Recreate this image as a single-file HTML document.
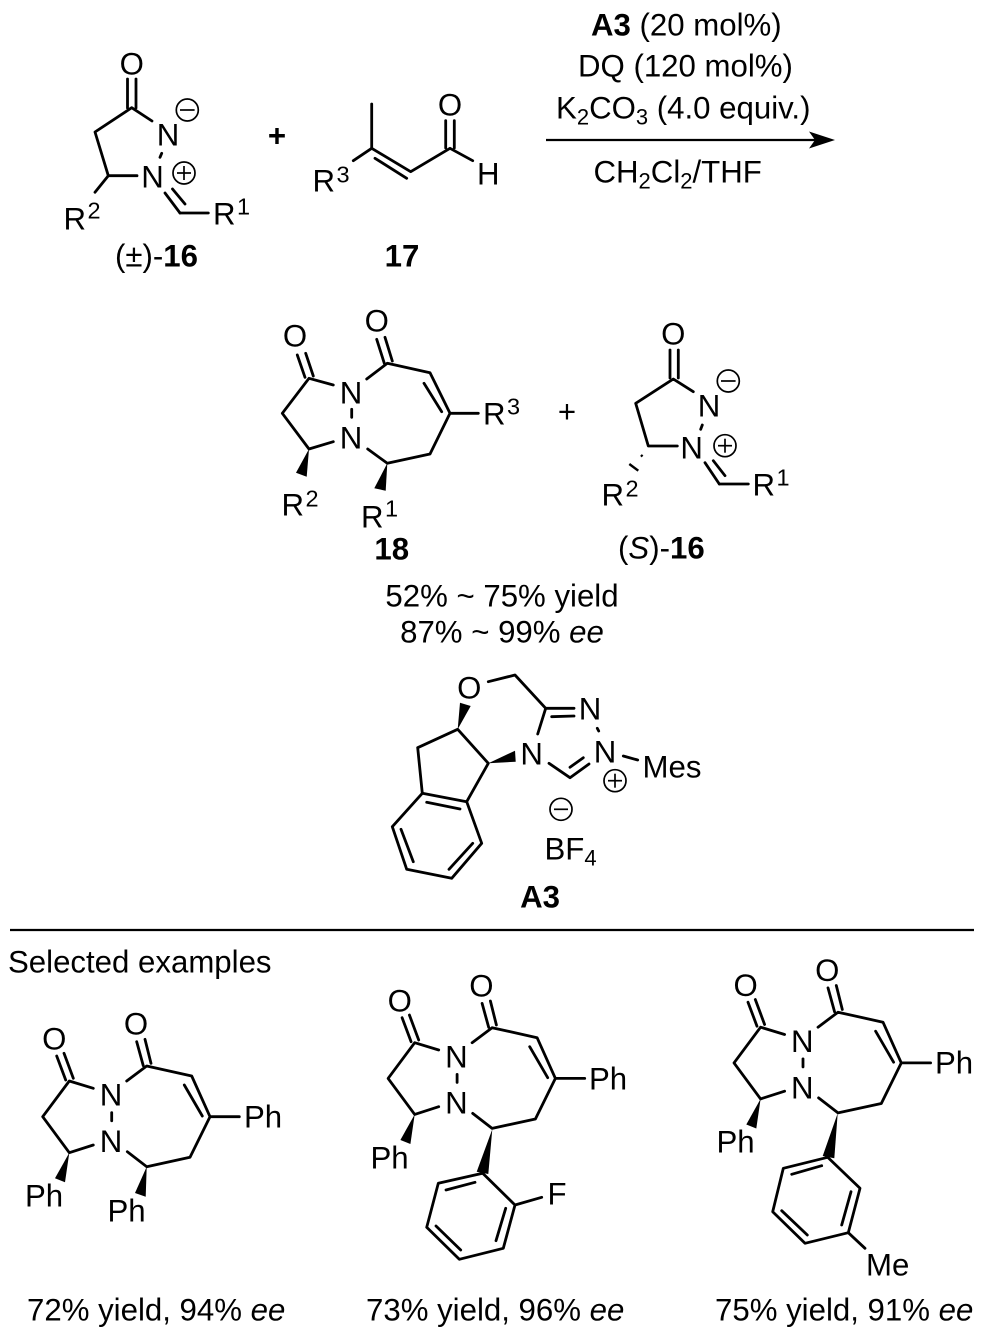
<!DOCTYPE html>
<html><head><meta charset="utf-8"><style>
html,body{margin:0;padding:0;background:#fff}
svg{display:block}
text{font-family:"Liberation Sans",sans-serif;font-size:31.2px;fill:#000;transform:translate(0,0.7px)}
.c{text-anchor:middle}
.b{font-weight:bold}
.s{font-size:23.5px}
.u{font-size:22px}
.bonds line{stroke:#000;stroke-width:2.8;stroke-linecap:round}
.bonds polyline{fill:none;stroke:#000;stroke-width:2.8;stroke-linejoin:round;stroke-linecap:round}
.ch circle{fill:none;stroke:#000;stroke-width:1.7}
.ch line{stroke:#000;stroke-width:1.7}
</style></head><body>
<svg width="983" height="1339" viewBox="0 0 983 1339" xmlns="http://www.w3.org/2000/svg">
<rect width="983" height="1339" fill="#fff"/>
<defs>
<g id="core" class="bonds">
<line x1="56.7" y1="1056" x2="65.7" y2="1080"/><line x1="64" y1="1053.3" x2="73.3" y2="1078.3"/>
<polyline points="93.3,1088.3 69.3,1081 42.7,1116.7 69.3,1152.7 93.3,1145"/>
<line x1="111.7" y1="1112.7" x2="111.7" y2="1120.7"/>
<polygon points="69.3,1152.7 55,1178.3 65,1182.3" fill="#000"/>
<line x1="136.7" y1="1041.7" x2="143.3" y2="1065.7"/><line x1="145" y1="1039.3" x2="151" y2="1063.3"/>
<polyline points="126.7,1081 146.7,1066 191.7,1076 210,1116.7 190,1157.3 146.7,1166.7 127.3,1151.7"/>
<line x1="184.3" y1="1085" x2="202.3" y2="1116"/>
<line x1="210" y1="1116.7" x2="239.3" y2="1116.7"/>
</g>
</defs>

<!-- 16 -->
<g class="bonds">
<line x1="127.5" y1="79" x2="127.5" y2="108"/><line x1="136" y1="79" x2="136" y2="108"/>
<polyline points="152,121 131.7,107.7 95,132 108.3,175.7 137,175.7"/>
<line x1="108.3" y1="175.7" x2="95" y2="192.3"/>
<line x1="161.7" y1="153.3" x2="160" y2="157.3"/>
<line x1="165" y1="193" x2="180" y2="213"/><line x1="172.5" y1="189" x2="185" y2="204"/>
<line x1="180" y1="213" x2="208.3" y2="213"/>
</g>
<text class="c" x="131.7" y="74">O</text>
<text class="c" x="168" y="145">N</text>
<text class="c" x="152.5" y="187">N</text>
<g class="ch"><circle cx="187.3" cy="110" r="11"/><line x1="180" y1="110" x2="194.6" y2="110"/>
<circle cx="184" cy="173" r="11"/><line x1="177" y1="173" x2="191" y2="173"/><line x1="184" y1="166" x2="184" y2="180"/></g>
<text x="63.5" y="229">R<tspan class="s" dx="1.5" dy="-11">2</tspan></text>
<text x="213" y="224">R<tspan class="s" dx="1.5" dy="-10">1</tspan></text>
<text x="115" y="266">(±)-<tspan class="b">16</tspan></text>

<text class="b c" x="277" y="146">+</text>

<!-- 17 -->
<g class="bonds">
<line x1="371.7" y1="104" x2="371.7" y2="148.3"/>
<line x1="353.3" y1="160.7" x2="371.7" y2="148.3"/>
<polyline points="371.7,148.3 410.7,171.7 450,148.3 472.7,160.7"/>
<line x1="375" y1="158.3" x2="406.7" y2="178.3"/>
<line x1="445.7" y1="120.7" x2="445.7" y2="148"/><line x1="454.3" y1="120.7" x2="454.3" y2="148"/>
</g>
<text class="c" x="450" y="115">O</text>
<text x="477" y="184">H</text>
<text x="312.5" y="191">R<tspan class="s" dx="1.5" dy="-9">3</tspan></text>
<text class="b c" x="402" y="266">17</text>

<!-- conditions -->
<text x="591" y="35"><tspan class="b">A3</tspan> (20 mol%)</text>
<text x="578" y="76">DQ (120 mol%)</text>
<text x="556" y="118">K<tspan class="u" dy="6">2</tspan><tspan dy="-6">CO</tspan><tspan class="u" dy="6">3</tspan><tspan dy="-6"> (4.0 equiv.)</tspan></text>
<line x1="546" y1="140" x2="815" y2="140" stroke="#000" stroke-width="2.2"/>
<polygon points="835,140 809,131.5 815,140 809,148.5" fill="#000"/>
<text x="593.5" y="182">CH<tspan class="u" dy="6">2</tspan><tspan dy="-6">Cl</tspan><tspan class="u" dy="6">2</tspan><tspan dy="-6">/THF</tspan></text>

<!-- 18 -->
<g class="bonds">
<line x1="297.3" y1="355" x2="305" y2="377.3"/><line x1="305.7" y1="353.3" x2="313.3" y2="376"/>
<polyline points="333.3,385 309,378.3 282.3,413.3 309,449 333.3,441.7"/>
<line x1="351.7" y1="409.3" x2="351.7" y2="417.3"/>
<polygon points="309,449 296,472.7 306.7,476.7" fill="#000"/>
<line x1="376.7" y1="339.3" x2="384.3" y2="363.3"/><line x1="385" y1="337.3" x2="392.3" y2="361"/>
<polyline points="366.7,379 387.3,363.3 430,372.7 450,413.3 430,454 387.3,463.3 367.7,449"/>
<line x1="424" y1="383.3" x2="441.7" y2="411.7"/>
<line x1="450" y1="413.3" x2="478.3" y2="413.3"/>
<polygon points="387.3,463.3 374.3,488.3 385.7,490.7" fill="#000"/>
</g>
<text class="c" x="295" y="346">O</text>
<text class="c" x="376.7" y="331">O</text>
<text class="c" x="351" y="403">N</text>
<text class="c" x="351" y="448">N</text>
<text x="483" y="424">R<tspan class="s" dx="1.5" dy="-10">3</tspan></text>
<text x="281.5" y="515">R<tspan class="s" dx="1.5" dy="-9">2</tspan></text>
<text x="361" y="527">R<tspan class="s" dx="1.5" dy="-11">1</tspan></text>
<text class="b c" x="391.7" y="559">18</text>
<text class="c" x="567" y="422">+</text>

<!-- (S)-16 -->
<g class="bonds">
<line x1="670" y1="350" x2="670" y2="378"/><line x1="678.3" y1="350" x2="678.3" y2="378"/>
<polyline points="693.3,391.7 673.3,379 635.7,403.3 648.3,446 677.3,446"/>
<line x1="702.3" y1="425" x2="700.7" y2="429.3"/>
<line x1="705" y1="462.7" x2="719.3" y2="484"/><line x1="713.3" y1="460.7" x2="725" y2="475.7"/>
<line x1="719.3" y1="484" x2="748.3" y2="484"/>
</g>
<g stroke="#000" stroke-width="2.4">
<line x1="641" y1="455" x2="642.5" y2="456.5"/>
<line x1="629.3" y1="464" x2="638.3" y2="470.7"/>
</g>
<text class="c" x="673.3" y="344">O</text>
<text class="c" x="709" y="416">N</text>
<text class="c" x="691.7" y="458">N</text>
<g class="ch"><circle cx="728.3" cy="381" r="11"/><line x1="721" y1="381" x2="735.6" y2="381"/>
<circle cx="725" cy="445.7" r="11"/><line x1="718" y1="445.7" x2="732" y2="445.7"/><line x1="725" y1="438.7" x2="725" y2="452.7"/></g>
<text x="752.5" y="495">R<tspan class="s" dx="1.5" dy="-10">1</tspan></text>
<text x="601.5" y="505">R<tspan class="s" dx="1.5" dy="-9">2</tspan></text>
<text x="618" y="558">(<tspan font-style="italic">S</tspan>)-<tspan class="b">16</tspan></text>

<text class="c" x="502" y="606">52% ~ 75% yield</text>
<text class="c" x="502" y="642">87% ~ 99% <tspan font-style="italic">ee</tspan></text>

<!-- A3 -->
<g class="bonds">
<polyline points="488.3,681.7 515,675 545.7,708.3 537.7,734"/>
<line x1="545.7" y1="708.3" x2="574" y2="708.3"/><line x1="551.7" y1="716.7" x2="574" y2="716"/>
<line x1="597.3" y1="728.3" x2="598.7" y2="731"/>
<polyline points="549,763.3 570,777.7 589,764"/>
<line x1="570" y1="767.3" x2="583.3" y2="757.7"/>
<line x1="623.3" y1="756" x2="637.7" y2="760"/>
<polyline points="417.7,747.7 457.7,729.3 488.3,763.3 466.7,801.7 481.7,843.3 451.7,878.3 406.7,869.3 392.3,826.7 422.3,793.3 417.7,747.7"/>
<line x1="422.3" y1="793.3" x2="466.7" y2="801.7"/>
<line x1="426.7" y1="802.3" x2="460" y2="809"/>
<line x1="472.7" y1="843.3" x2="449" y2="869.3"/>
<line x1="413.3" y1="861.7" x2="401" y2="829.3"/>
<polygon points="457.7,729.3 460,702.7 470.7,706" fill="#000"/>
<polygon points="488.3,763.3 515,750.7 515.7,761.7" fill="#000"/>
</g>
<text class="c" x="469.3" y="698">O</text>
<text class="c" x="590" y="719">N</text>
<text class="c" x="605" y="762">N</text>
<text class="c" x="531.7" y="764">N</text>
<text x="642.5" y="777">Mes</text>
<g class="ch"><circle cx="615" cy="780.7" r="11"/><line x1="608" y1="780.7" x2="622" y2="780.7"/><line x1="615" y1="773.7" x2="615" y2="787.7"/>
<circle cx="561" cy="809.3" r="11"/><line x1="554" y1="809.3" x2="568" y2="809.3"/></g>
<text x="544.5" y="859">BF<tspan class="u" dy="6">4</tspan></text>
<text class="b c" x="540" y="907">A3</text>

<line x1="10" y1="930" x2="974" y2="930" stroke="#000" stroke-width="2.2"/>
<text x="8" y="972">Selected examples</text>

<!-- Example 1 -->
<use href="#core"/>
<g class="bonds"><polygon points="146.7,1166.7 135,1193 145.7,1196.7" fill="#000"/></g>
<text class="c" x="54.3" y="1049">O</text>
<text class="c" x="136" y="1034">O</text>
<text class="c" x="111" y="1105">N</text>
<text class="c" x="111" y="1151.5">N</text>
<text x="244" y="1127">Ph</text>
<text x="25" y="1206">Ph</text>
<text x="107.5" y="1221">Ph</text>
<text x="27" y="1320">72% yield, 94% <tspan font-style="italic">ee</tspan></text>

<!-- Example 2 -->
<use href="#core" transform="translate(345.4,-38.3)"/>
<text class="c" x="399.7" y="1011">O</text>
<text class="c" x="481.4" y="996">O</text>
<text class="c" x="456.4" y="1067">N</text>
<text class="c" x="456.4" y="1113">N</text>
<text x="589" y="1089">Ph</text>
<text x="370.5" y="1168">Ph</text>
<g class="bonds">
<polygon points="492.3,1129.3 476.7,1171.7 488.3,1174" fill="#000"/>
<polyline points="482.7,1173.3 515,1205 503.3,1248.3 459.3,1259.3 426.7,1227.3 438.3,1183.3 482.7,1173.3"/>
<line x1="446" y1="1190" x2="475" y2="1182.3"/>
<line x1="505.7" y1="1208.3" x2="496" y2="1240.7"/>
<line x1="436" y1="1226" x2="460.7" y2="1250"/>
<line x1="515" y1="1205" x2="541.7" y2="1197.3"/>
</g>
<text x="547.5" y="1204">F</text>
<text x="366" y="1320">73% yield, 96% <tspan font-style="italic">ee</tspan></text>

<!-- Example 3 -->
<use href="#core" transform="translate(691.3,-53.8)"/>
<text class="c" x="745.6" y="995.5">O</text>
<text class="c" x="827.3" y="980.5">O</text>
<text class="c" x="802.3" y="1051.5">N</text>
<text class="c" x="802.3" y="1098">N</text>
<text x="935" y="1073">Ph</text>
<text x="716.5" y="1152">Ph</text>
<g class="bonds">
<polygon points="837.7,1113.3 822.7,1156 834.3,1158.3" fill="#000"/>
<polyline points="827.7,1157.3 860,1188.3 848.3,1232.7 805,1243.3 772.7,1211.7 783.3,1168.3 827.7,1157.3"/>
<line x1="791.7" y1="1174.3" x2="821.7" y2="1165.7"/>
<line x1="851" y1="1191.7" x2="841.7" y2="1225"/>
<line x1="781.7" y1="1210.7" x2="807.3" y2="1235"/>
<line x1="848.3" y1="1232.7" x2="865" y2="1248.3"/>
</g>
<text x="866" y="1275">Me</text>
<text x="715" y="1320">75% yield, 91% <tspan font-style="italic">ee</tspan></text>
</svg>
</body></html>
